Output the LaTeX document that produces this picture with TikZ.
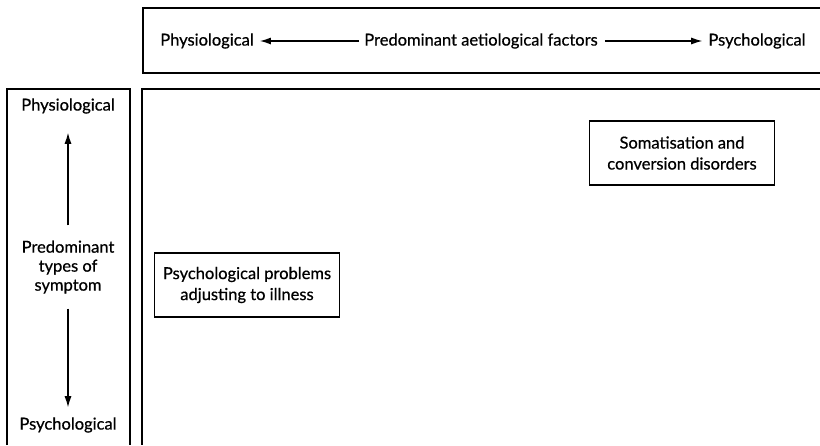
\documentclass[tikz,border=0pt]{standalone}
\usepackage{fontspec}
\setmainfont{Lato}[FakeBold=0.6]
\usetikzlibrary{arrows.meta}

\tikzset{
	lbl/.style={font=\fontsize{16.5}{19}\selectfont, inner sep=1pt, align=center},
	kindbox/.style={draw, line width=1.2pt, align=center, minimum width=185pt, minimum height=64pt, font=\fontsize{16.5}{21}\selectfont},
	arr/.style={line width=1.2pt, -{Latex[length=11pt,width=7pt]}}
}

\begin{document}
\begin{tikzpicture}[x=1pt, y=-1pt]
	\useasboundingbox (0,0) rectangle (820,445);
	% frames, cut off at the right and bottom edges
	\draw[line width=1.2pt] (820,8) -- (143,8) -- (143,73) -- (820,73);
	\draw[line width=1.2pt] (820,89) -- (142,89) -- (142,445);
	\draw[line width=1.2pt] (7,445) -- (7,89) -- (130,89) -- (130,445);
	% top axis
	\node[lbl] (fphys) at (207,41) {Physiological};
	\node[lbl] (ffac) at (481,41) {Predominant aetiological factors};
	\node[lbl] (fpsy) at (757,41) {Psychological};
	\draw[arr, shorten <=4pt, shorten >=5pt] (ffac) -- (fphys);
	\draw[arr, shorten <=6pt, shorten >=5pt] (ffac) -- (fpsy);
	% side axis
	\node[lbl] (sphys) at (68,106) {Physiological};
	\node[lbl] (stype) at (68,267) {Predominant\\types of\\symptom};
	\node[lbl] (spsy) at (68,425) {Psychological};
	\draw[arr, shorten <=14pt, shorten >=18pt] (stype) -- (sphys);
	\draw[arr, shorten <=14pt, shorten >=9pt] (stype) -- (spsy);
	% disorders
	\node[kindbox] (adjust) at (247,285) {Psychological problems\\adjusting to illness};
	\node[kindbox] (somat) at (682,153) {Somatisation and\\conversion disorders};
\end{tikzpicture}
\end{document}
